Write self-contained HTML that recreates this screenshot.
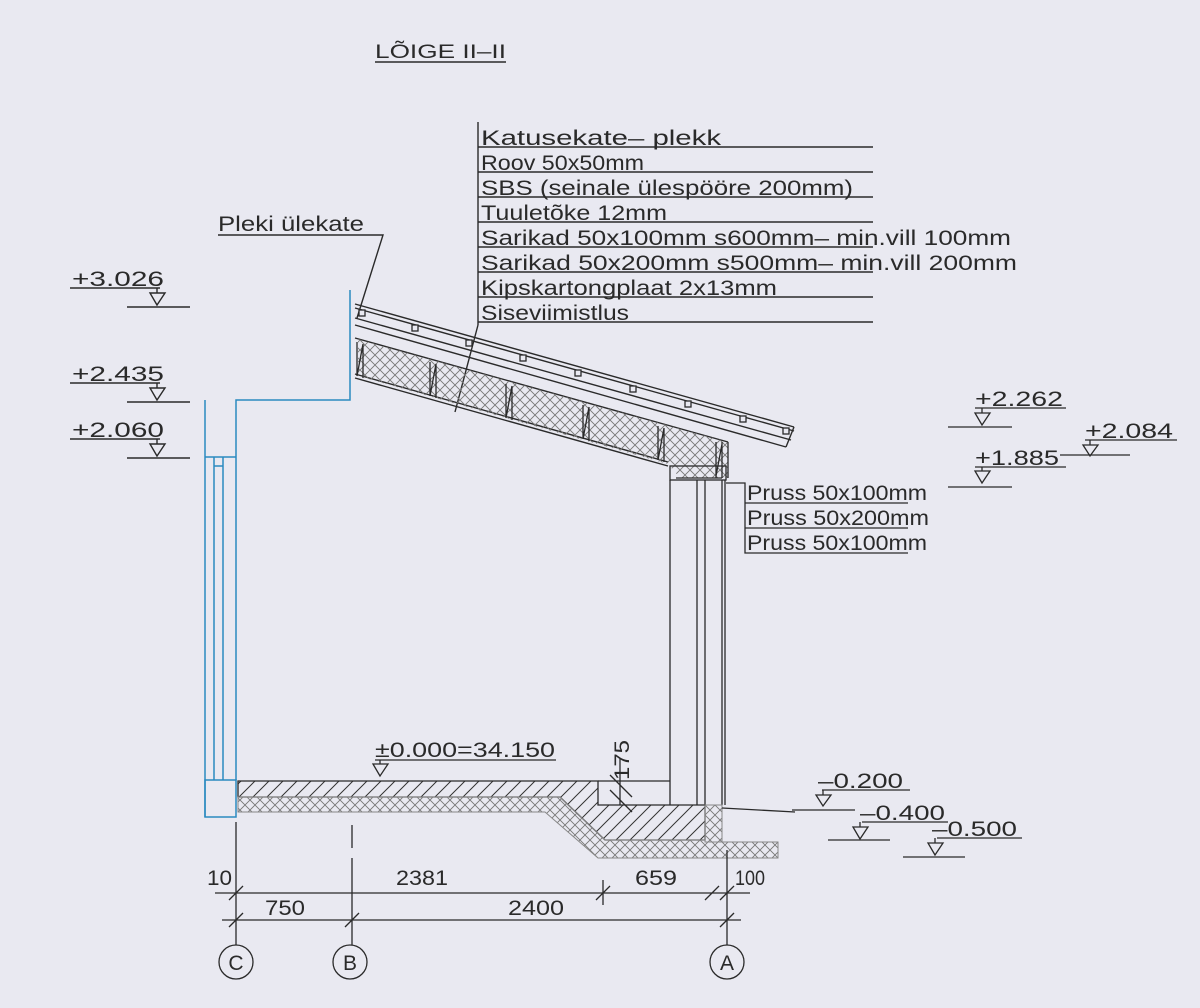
<!DOCTYPE html>
<html><head><meta charset="utf-8"><style>
html,body{margin:0;padding:0;background:#e9e9f1;}
svg{display:block}
text{font-family:"Liberation Sans",sans-serif;fill:#2a2a2a;}
</style></head><body>
<svg width="1200" height="1008" viewBox="0 0 1200 1008" xmlns="http://www.w3.org/2000/svg">
<defs>
<pattern id="cross" width="10" height="10" patternUnits="userSpaceOnUse">
<path d="M0,0 L10,10 M10,0 L0,10" stroke="#777" stroke-width="0.9"/>
</pattern>
<pattern id="diag" width="14" height="14" patternUnits="userSpaceOnUse">
<path d="M0,14 L14,0 M-4,4 L4,-4 M10,18 L18,10" stroke="#333" stroke-width="1"/>
</pattern>
</defs>
<rect width="1200" height="1008" fill="#e9e9f1"/>
<g stroke="#2a2a2a" fill="none" stroke-width="1.4">
<!-- title -->
<line x1="375" y1="62" x2="506" y2="62"/>
<!-- label list -->
<line x1="478" y1="122" x2="478" y2="325"/>
<line x1="478" y1="325" x2="455" y2="412"/>
<line x1="478" y1="147" x2="873" y2="147"/>
<line x1="478" y1="172" x2="873" y2="172"/>
<line x1="478" y1="197" x2="873" y2="197"/>
<line x1="478" y1="222" x2="873" y2="222"/>
<line x1="478" y1="247" x2="873" y2="247"/>
<line x1="478" y1="272" x2="873" y2="272"/>
<line x1="478" y1="297" x2="873" y2="297"/>
<line x1="478" y1="322" x2="873" y2="322"/>
<!-- pleki -->
<polyline points="218,235 383,235 357,318"/>
<!-- left levels -->
<line x1="70" y1="288" x2="160" y2="288"/><path d="M157,288 V293 M150,293 H165 L157,305 Z"/><line x1="127" y1="307" x2="190" y2="307"/>
<line x1="70" y1="383" x2="160" y2="383"/><path d="M157,383 V388 M150,388 H165 L157,400 Z"/><line x1="127" y1="402" x2="190" y2="402"/>
<line x1="70" y1="439" x2="160" y2="439"/><path d="M157,439 V444 M150,444 H165 L157,456 Z"/><line x1="127" y1="458" x2="190" y2="458"/>
<!-- roof -->
<line x1="355" y1="304" x2="794" y2="427"/>
<line x1="355" y1="308" x2="794" y2="431"/>
<line x1="355" y1="318" x2="791" y2="440"/>
<line x1="355" y1="325" x2="786" y2="447"/>
<line x1="794" y1="427" x2="786" y2="447"/>
<line x1="355" y1="338" x2="728" y2="442"/>
<line x1="355" y1="378" x2="668" y2="466"/>
<line x1="355" y1="374" x2="668" y2="462"/>
</g>
<polygon points="358,339 728,442 728,478 680,478 668,464 358,376" fill="url(#cross)"/>
<g stroke="#2a2a2a" fill="none" stroke-width="1.3">
<g fill="#e9e9f1">
<rect x="359" y="310" width="6" height="6"/><rect x="412" y="325" width="6" height="6"/><rect x="466" y="340" width="6" height="6"/><rect x="520" y="355" width="6" height="6"/><rect x="575" y="370" width="6" height="6"/><rect x="630" y="386" width="6" height="6"/><rect x="685" y="401" width="6" height="6"/><rect x="740" y="416" width="6" height="6"/><rect x="783" y="428" width="6" height="6"/>
</g>
<path d="M357,342 V376 M363,344 V378 M357,376 L363,344"/>
<path d="M430,362 V396 M436,364 V398 M430,396 L436,364"/>
<path d="M506,384 V418 M512,386 V420 M506,418 L512,386"/>
<path d="M583,405 V439 M589,407 V441 M583,439 L589,407"/>
<path d="M658,426 V460 M664,428 V462 M658,460 L664,428"/>
<path d="M716,442 V478 M722,442 V478 M716,476 L722,444"/>
<line x1="728" y1="442" x2="728" y2="478"/>
<!-- post -->
<rect x="670" y="466" width="56" height="14"/>
<line x1="676" y1="478" x2="722" y2="478"/>
<line x1="670" y1="480" x2="670" y2="805"/>
<line x1="697" y1="480" x2="697" y2="805"/>
<line x1="705" y1="480" x2="705" y2="805"/>
<line x1="725" y1="480" x2="725" y2="805"/>
<line x1="722" y1="480" x2="722" y2="805"/>
<polyline points="726,483 745,483 745,553 908,553"/>
<line x1="745" y1="503" x2="908" y2="503"/>
<line x1="745" y1="528" x2="908" y2="528"/>
<!-- right levels -->
<line x1="975" y1="408" x2="1066" y2="408"/><path d="M982,408 V413 M975,413 H990 L982,425 Z"/><line x1="948" y1="427" x2="1012" y2="427"/>
<line x1="1085" y1="440" x2="1177" y2="440"/><path d="M1090,440 V445 M1083,445 H1098 L1090,456 Z"/><line x1="1060" y1="455" x2="1130" y2="455"/>
<line x1="975" y1="467" x2="1066" y2="467"/><path d="M982,467 V471 M975,471 H990 L982,483 Z"/><line x1="948" y1="487" x2="1012" y2="487"/>
</g>
<!-- blue wall -->
<g stroke="#2a8ac0" fill="none" stroke-width="1.5">
<line x1="205" y1="400" x2="205" y2="817"/>
<polyline points="236,780 236,400 350,400 350,290"/>
<line x1="205" y1="457" x2="236" y2="457"/>
<line x1="214" y1="457" x2="214" y2="780"/>
<line x1="223" y1="457" x2="223" y2="780"/>
<line x1="214" y1="466" x2="223" y2="466"/>
<rect x="205" y="780" width="31" height="37"/>
</g>
<!-- foundation -->
<polygon points="238,781 598,781 598,805 670,805 705,805 705,840 605,840 560,797 238,797" fill="url(#diag)" stroke="#2a2a2a" stroke-width="1.3"/>
<polygon points="238,797 560,797 605,840 705,840 705,842 778,842 778,858 598,858 545,812 238,812" fill="url(#cross)" stroke="#888" stroke-width="1"/>
<rect x="705" y="805" width="17" height="37" fill="url(#cross)" stroke="#888"/>
<g stroke="#2a2a2a" fill="none" stroke-width="1.3">
<line x1="598" y1="781" x2="670" y2="781"/>
<line x1="620" y1="758" x2="620" y2="805"/>
<line x1="610" y1="775" x2="632" y2="797"/>
<line x1="610" y1="790" x2="632" y2="812"/>
<line x1="722" y1="808" x2="795" y2="812"/>
<!-- 0.000 -->
<line x1="375" y1="760" x2="556" y2="760"/><path d="M380,760 V764 M373,764 H388 L380,776 Z"/>
<!-- low right levels -->
<line x1="822" y1="790" x2="910" y2="790"/><path d="M823,790 V795 M816,795 H831 L823,806 Z"/><line x1="792" y1="810" x2="855" y2="810"/>
<line x1="862" y1="822" x2="948" y2="822"/><path d="M860,822 V827 M853,827 H868 L860,839 Z"/><line x1="828" y1="840" x2="890" y2="840"/>
<line x1="937" y1="838" x2="1022" y2="838"/><path d="M935,838 V843 M928,843 H943 L935,855 Z"/><line x1="903" y1="857" x2="965" y2="857"/>
<!-- dims -->
<line x1="215" y1="893" x2="750" y2="893"/>
<line x1="222" y1="920" x2="741" y2="920"/>
<line x1="236" y1="822" x2="236" y2="945"/>
<line x1="352" y1="825" x2="352" y2="848"/>
<line x1="352" y1="858" x2="352" y2="945"/>
<line x1="727" y1="850" x2="727" y2="945"/>
<line x1="603" y1="880" x2="603" y2="905"/>
<line x1="229" y1="900" x2="243" y2="886"/><line x1="229" y1="927" x2="243" y2="913"/>
<line x1="345" y1="927" x2="359" y2="913"/><line x1="596" y1="900" x2="610" y2="886"/>
<line x1="705" y1="900" x2="719" y2="886"/><line x1="720" y1="900" x2="734" y2="886"/>
<line x1="720" y1="927" x2="734" y2="913"/>
<circle cx="236" cy="962" r="17"/><circle cx="350" cy="962" r="17"/><circle cx="727" cy="962" r="17"/>
</g>
<g font-size="21">
<text x="375" y="58" font-size="19" textLength="131" lengthAdjust="spacingAndGlyphs">LÕIGE II–II</text>
<text x="481" y="145" textLength="240" lengthAdjust="spacingAndGlyphs">Katusekate– plekk</text>
<text x="481" y="170" textLength="163" lengthAdjust="spacingAndGlyphs">Roov 50x50mm</text>
<text x="481" y="195" textLength="372" lengthAdjust="spacingAndGlyphs">SBS (seinale ülespööre 200mm)</text>
<text x="481" y="220" textLength="186" lengthAdjust="spacingAndGlyphs">Tuuletõke 12mm</text>
<text x="481" y="245" textLength="530" lengthAdjust="spacingAndGlyphs">Sarikad 50x100mm s600mm– min.vill 100mm</text>
<text x="481" y="270" textLength="536" lengthAdjust="spacingAndGlyphs">Sarikad 50x200mm s500mm– min.vill 200mm</text>
<text x="481" y="295" textLength="296" lengthAdjust="spacingAndGlyphs">Kipskartongplaat 2x13mm</text>
<text x="481" y="320" textLength="148" lengthAdjust="spacingAndGlyphs">Siseviimistlus</text>
<text x="218" y="231" textLength="146" lengthAdjust="spacingAndGlyphs">Pleki ülekate</text>
<text x="72" y="286" textLength="92" lengthAdjust="spacingAndGlyphs">+3.026</text>
<text x="72" y="381" textLength="92" lengthAdjust="spacingAndGlyphs">+2.435</text>
<text x="72" y="437" textLength="92" lengthAdjust="spacingAndGlyphs">+2.060</text>
<text x="975" y="406" textLength="88" lengthAdjust="spacingAndGlyphs">+2.262</text>
<text x="1085" y="438" textLength="88" lengthAdjust="spacingAndGlyphs">+2.084</text>
<text x="975" y="465" textLength="84" lengthAdjust="spacingAndGlyphs">+1.885</text>
<text x="747" y="500" textLength="180" lengthAdjust="spacingAndGlyphs">Pruss 50x100mm</text>
<text x="747" y="525" textLength="182" lengthAdjust="spacingAndGlyphs">Pruss 50x200mm</text>
<text x="747" y="550" textLength="180" lengthAdjust="spacingAndGlyphs">Pruss 50x100mm</text>
<text x="375" y="757" textLength="180" lengthAdjust="spacingAndGlyphs">±0.000=34.150</text>
<text x="0" y="0" transform="translate(629,780) rotate(-90)" textLength="40" lengthAdjust="spacingAndGlyphs">175</text>
<text x="818" y="788" textLength="85" lengthAdjust="spacingAndGlyphs">–0.200</text>
<text x="860" y="820" textLength="85" lengthAdjust="spacingAndGlyphs">–0.400</text>
<text x="932" y="836" textLength="85" lengthAdjust="spacingAndGlyphs">–0.500</text>
<text x="207" y="885" textLength="25" lengthAdjust="spacingAndGlyphs">10</text>
<text x="396" y="885" textLength="52" lengthAdjust="spacingAndGlyphs">2381</text>
<text x="635" y="885" textLength="42" lengthAdjust="spacingAndGlyphs">659</text>
<text x="735" y="885" textLength="30" lengthAdjust="spacingAndGlyphs">100</text>
<text x="265" y="915" textLength="40" lengthAdjust="spacingAndGlyphs">750</text>
<text x="508" y="915" textLength="56" lengthAdjust="spacingAndGlyphs">2400</text>
<text x="236" y="970" text-anchor="middle">C</text>
<text x="350" y="970" text-anchor="middle">B</text>
<text x="727" y="970" text-anchor="middle">A</text>
</g>
</svg>
</body></html>
